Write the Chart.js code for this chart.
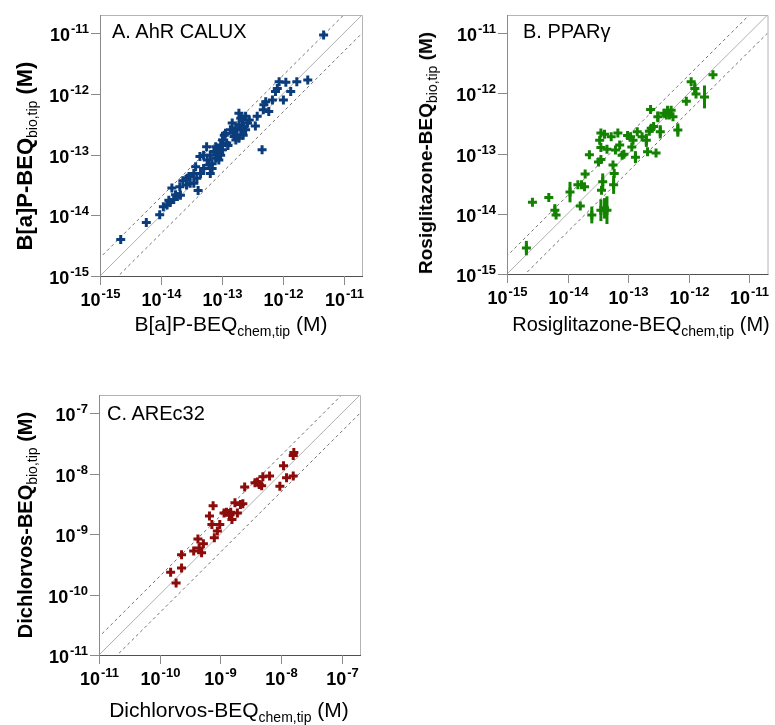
<!DOCTYPE html>
<html>
<head>
<meta charset="utf-8">
<script src="https://cdn.jsdelivr.net/npm/chart.js@4"></script>
<style>
  body { margin: 0; background: #fff; }
  #wrap { position: relative; width: 775px; height: 725px; overflow: hidden; font-family: "Liberation Sans", Arial, sans-serif; }
  #wrap canvas { position: absolute; left: 0; top: 0; }
  .lbl { position: absolute; font-size: 20px; line-height: 20px; white-space: nowrap; color: #000; }
  .ytitle { font-weight: bold; transform: translate(-50%, -50%) rotate(-90deg); }
  .xtitle { transform: translateX(-50%); }
  .lbl sub { font-size: 14px; line-height: 0; vertical-align: -5px; }
  .ytitle sub { font-weight: normal; }
</style>
</head>
<body>
<div id="wrap">
  <canvas id="chartA" width="775" height="725"></canvas>
  <canvas id="chartB" width="775" height="725"></canvas>
  <canvas id="chartC" width="775" height="725"></canvas>

  <div class="lbl" style="left:112px;top:21px">A. AhR CALUX</div>
  <div class="lbl ytitle" style="left:25px;top:156px;font-size:22px">B[a]P-BEQ<sub>bio,tip</sub> (M)</div>
  <div class="lbl xtitle" style="left:231px;top:314px;font-size:21px">B[a]P-BEQ<sub>chem,tip</sub> (M)</div>

  <div class="lbl" style="left:523px;top:21px">B. PPARγ</div>
  <div class="lbl ytitle" style="left:426px;top:153px;font-size:19px">Rosiglitazone-BEQ<sub>bio,tip</sub> (M)</div>
  <div class="lbl xtitle" style="left:641px;top:314px">Rosiglitazone-BEQ<sub>chem,tip</sub> (M)</div>

  <div class="lbl" style="left:107px;top:403px">C. AREc32</div>
  <div class="lbl ytitle" style="left:25px;top:525px">Dichlorvos-BEQ<sub>bio,tip</sub> (M)</div>
  <div class="lbl xtitle" style="left:229px;top:700px;font-size:21px">Dichlorvos-BEQ<sub>chem,tip</sub> (M)</div>
</div>

<script>
// values, as log10 exponents (M)
const ahrChemExp = [-14.66,-14.24,-14.02,-13.90,-13.85,-13.82,-13.79,-13.73,-13.68,-13.64,-13.58,-13.54,-13.52,-13.43,-13.41,-13.39,-13.36,-13.35,-13.30,-13.24,-13.21,-13.19,-13.16,-13.13,-13.10,-13.08,-13.05,-13.02,-12.99,-12.96,-12.92,-12.90,-12.83,-12.81,-12.77,-12.75,-12.72,-12.69,-12.66,-12.64,-12.61,-12.58,-12.72,-12.77,-12.45,-12.42,-12.34,-12.32,-12.28,-12.23,-12.17,-12.12,-12.09,-12.06,-11.99,-11.95,-11.87,-11.77,-11.59,-11.33,-13.25,-13.10,-13.05,-13.16,-13.19,-13.02,-12.86,-12.80,-12.69,-12.61,-12.65,-12.55,-13.57,-13.69,-13.76,-13.87,-13.96,-13.46,-13.30,-12.99,-12.94,-13.46,-12.72,-12.31];
const ahrBioExp = [-14.40,-14.12,-13.99,-13.83,-13.79,-13.55,-13.74,-13.69,-13.67,-13.43,-13.50,-13.36,-13.47,-13.20,-13.39,-13.59,-13.03,-13.31,-13.23,-13.09,-13.17,-13.01,-13.15,-12.95,-13.06,-12.98,-12.90,-13.01,-12.92,-12.68,-12.81,-12.85,-12.48,-12.65,-12.56,-12.68,-12.51,-12.59,-12.43,-12.54,-12.37,-12.48,-12.73,-12.76,-12.53,-12.37,-12.92,-12.26,-12.13,-12.29,-12.10,-11.96,-11.91,-11.80,-12.10,-11.81,-11.96,-11.80,-11.77,-11.03,-12.87,-12.87,-13.09,-13.23,-13.31,-12.84,-12.59,-12.70,-12.40,-12.59,-12.68,-12.43,-13.39,-13.53,-13.66,-13.75,-13.86,-13.31,-13.01,-12.76,-12.65,-13.47,-12.32,-12.18];

const pparChemExp = [-14.68,-14.58,-14.31,-14.21,-14.19,-13.96,-13.83,-13.72,-13.79,-13.71,-13.64,-13.49,-13.47,-13.45,-13.39,-13.45,-13.42,-13.44,-13.45,-13.39,-13.35,-13.60,-13.35,-13.28,-13.24,-13.23,-13.25,-13.21,-13.17,-13.14,-13.10,-13.07,-13.01,-12.96,-12.94,-12.92,-12.88,-12.85,-12.77,-12.70,-12.68,-12.65,-12.63,-12.62,-12.58,-12.54,-12.51,-12.47,-12.41,-12.37,-12.35,-12.32,-12.29,-12.26,-12.18,-12.04,-11.96,-11.90,-11.88,-11.74,-11.60,-13.45,-13.77];
const pparBioExp = [-14.57,-13.81,-13.73,-13.94,-14.02,-13.64,-13.52,-13.55,-13.87,-13.34,-13.02,-13.14,-12.78,-12.66,-12.68,-12.90,-13.47,-13.61,-13.94,-13.91,-13.94,-14.02,-12.93,-12.72,-13.52,-13.33,-13.19,-12.94,-12.66,-12.86,-13.03,-13.01,-12.70,-12.72,-12.89,-12.78,-13.06,-12.64,-12.72,-12.78,-12.97,-12.63,-12.27,-12.58,-12.55,-12.99,-12.39,-12.64,-12.33,-12.36,-12.28,-12.36,-12.28,-12.39,-12.61,-12.13,-11.81,-11.92,-12.01,-12.06,-11.69,-13.10,-13.52];
// half length of the vertical error bar, in log10 units (0 = hidden under marker)
const pparBioErr = [0.12,0,0,0.10,0,0.17,0,0,0,0,0,0,0,0,0,0,0.14,0,0.18,0.17,0.23,0.14,0,0,0.15,0,0,0,0,0,0,0,0,0,0,0,0.10,0,0,0.11,0,0,0,0,0,0,0.09,0.11,0,0,0,0,0,0,0.11,0,0,0.10,0,0.19,0,0,0];

const arecChemExp = [-9.82,-9.73,-9.64,-9.64,-9.44,-9.37,-9.35,-9.31,-9.28,-9.18,-9.14,-9.12,-9.10,-9.05,-9.01,-8.94,-8.90,-8.85,-8.81,-8.83,-8.76,-8.72,-8.67,-8.63,-8.60,-8.43,-8.39,-8.36,-8.32,-8.30,-8.19,-8.02,-7.96,-7.91,-7.80,-7.80,-7.79,-8.84];
const arecBioExp = [-9.63,-9.81,-9.34,-9.56,-9.28,-9.08,-9.23,-9.31,-9.16,-8.70,-8.84,-8.53,-9.06,-8.95,-8.84,-8.65,-8.64,-8.66,-8.76,-8.64,-8.48,-8.65,-8.51,-8.50,-8.22,-8.15,-8.14,-8.18,-8.20,-8.05,-8.04,-8.21,-7.87,-8.07,-8.04,-7.70,-7.65,-8.68];

const ticksAB = [-15, -14, -13, -12, -11];
const ticksC = [-11, -10, -9, -8, -7];

const toPoints = (xs, ys) => xs.map((x, i) => ({ x: 10 ** x, y: 10 ** ys[i] }));

const FONT = '"Liberation Sans", Arial, sans-serif';

// draws "10" with a raised exponent
function drawPow(ctx, exp, x, y, align) {
    ctx.font = 'bold 18px ' + FONT;
    const wBase = ctx.measureText('10').width;
    ctx.font = 'bold 13px ' + FONT;
    const wExp = ctx.measureText(String(exp)).width;
    const total = wBase + wExp + 1;
    let x0 = align === 'center' ? x - total / 2 : x - total;
    ctx.textAlign = 'left';
    ctx.textBaseline = 'alphabetic';
    ctx.fillStyle = '#000';
    ctx.font = 'bold 18px ' + FONT;
    ctx.fillText('10', x0, y);
    ctx.font = 'bold 13px ' + FONT;
    ctx.fillText(String(exp), x0 + wBase + 1, y - 8);
}

const panelPlugin = {
    id: 'panel',
    beforeDatasetsDraw(chart, args, opts) {
        const { ctx, chartArea: a, scales: { x, y } } = chart;
        ctx.save();
        // 1:1 line and factor-2 lines
        ctx.beginPath();
        ctx.rect(a.left, a.top, a.right - a.left, a.bottom - a.top);
        ctx.clip();
        const lo = x.min, hi = x.max;
        [[1, '#b0b0b0', []], [2, '#707070', [3, 3]], [0.5, '#707070', [3, 3]]].forEach(([f, col, dash]) => {
            ctx.beginPath();
            ctx.setLineDash(dash);
            ctx.strokeStyle = col;
            ctx.lineWidth = 1;
            ctx.moveTo(x.getPixelForValue(lo / 10), y.getPixelForValue(f * lo / 10));
            ctx.lineTo(x.getPixelForValue(hi * 10), y.getPixelForValue(f * hi * 10));
            ctx.stroke();
        });
        ctx.restore();
    },
    afterDatasetsDraw(chart, args, opts) {
        const { ctx, chartArea: a, scales: { x, y } } = chart;
        ctx.save();
        // error bars
        if (opts.err) {
            const meta = chart.getDatasetMeta(0);
            ctx.strokeStyle = opts.color;
            ctx.lineWidth = 3;
            opts.err.forEach((e, i) => {
                if (!e) return;
                const p = chart.data.datasets[0].data[i];
                const px = meta.data[i].x;
                ctx.beginPath();
                ctx.moveTo(px, y.getPixelForValue(p.y * 10 ** e));
                ctx.lineTo(px, y.getPixelForValue(p.y / 10 ** e));
                ctx.stroke();
            });
        }
        // frame
        ctx.lineWidth = 1;
        ctx.strokeStyle = '#b4b4b4';
        ctx.beginPath();
        ctx.moveTo(a.left, a.top + 0.5); ctx.lineTo(a.right + 0.5, a.top + 0.5); ctx.lineTo(a.right + 0.5, a.bottom);
        ctx.stroke();
        ctx.strokeStyle = '#8a8a8a';
        ctx.beginPath();
        ctx.moveTo(a.left + 0.5, a.top); ctx.lineTo(a.left + 0.5, a.bottom);
        ctx.stroke();
        ctx.strokeStyle = '#505050';
        ctx.beginPath();
        ctx.moveTo(a.left, a.bottom + 0.5); ctx.lineTo(a.right + 1, a.bottom + 0.5);
        ctx.stroke();
        // ticks and labels
        ctx.strokeStyle = '#8a8a8a';
        opts.ticks.forEach(t => {
            const px = Math.round(x.getPixelForValue(10 ** t)) + 0.5;
            ctx.beginPath(); ctx.moveTo(px, a.bottom); ctx.lineTo(px, a.bottom + 9); ctx.stroke();
            drawPow(ctx, t, px, a.bottom + 30, 'center');
            const py = Math.round(y.getPixelForValue(10 ** t)) + 0.5;
            ctx.beginPath(); ctx.moveTo(a.left - 9, py); ctx.lineTo(a.left, py); ctx.stroke();
            drawPow(ctx, t, a.left - 11, py + 7, 'right');
        });
        ctx.restore();
    }
};

function makePanel(id, points, color, range, box, ticks, err) {
    const axis = { type: 'logarithmic', min: 10 ** range[0], max: 10 ** range[1], display: false };
    return new Chart(document.getElementById(id), {
        type: 'scatter',
        data: {
            datasets: [{
                data: points,
                pointStyle: 'cross',
                pointRadius: 4.5,
                borderWidth: 3,
                borderColor: color,
                backgroundColor: color
            }]
        },
        options: {
            responsive: false,
            animation: false,
            events: [],
            layout: { padding: { left: box[0], top: box[1], right: 775 - box[2], bottom: 725 - box[3] } },
            scales: { x: axis, y: axis },
            plugins: {
                legend: { display: false },
                tooltip: { enabled: false },
                panel: { ticks: ticks, err: err, color: color }
            }
        },
        plugins: [panelPlugin]
    });
}

makePanel('chartA', toPoints(ahrChemExp, ahrBioExp), '#0b3d7c', [-15, -10.7], [100, 15, 362, 276], ticksAB, null);
makePanel('chartB', toPoints(pparChemExp, pparBioExp), '#138200', [-15, -10.7], [507, 15, 768, 274], ticksAB, pparBioErr);
makePanel('chartC', toPoints(arecChemExp, arecBioExp), '#8c0c0c', [-11, -6.7], [99, 395, 360, 655], ticksC, null);
</script>
</body>
</html>
